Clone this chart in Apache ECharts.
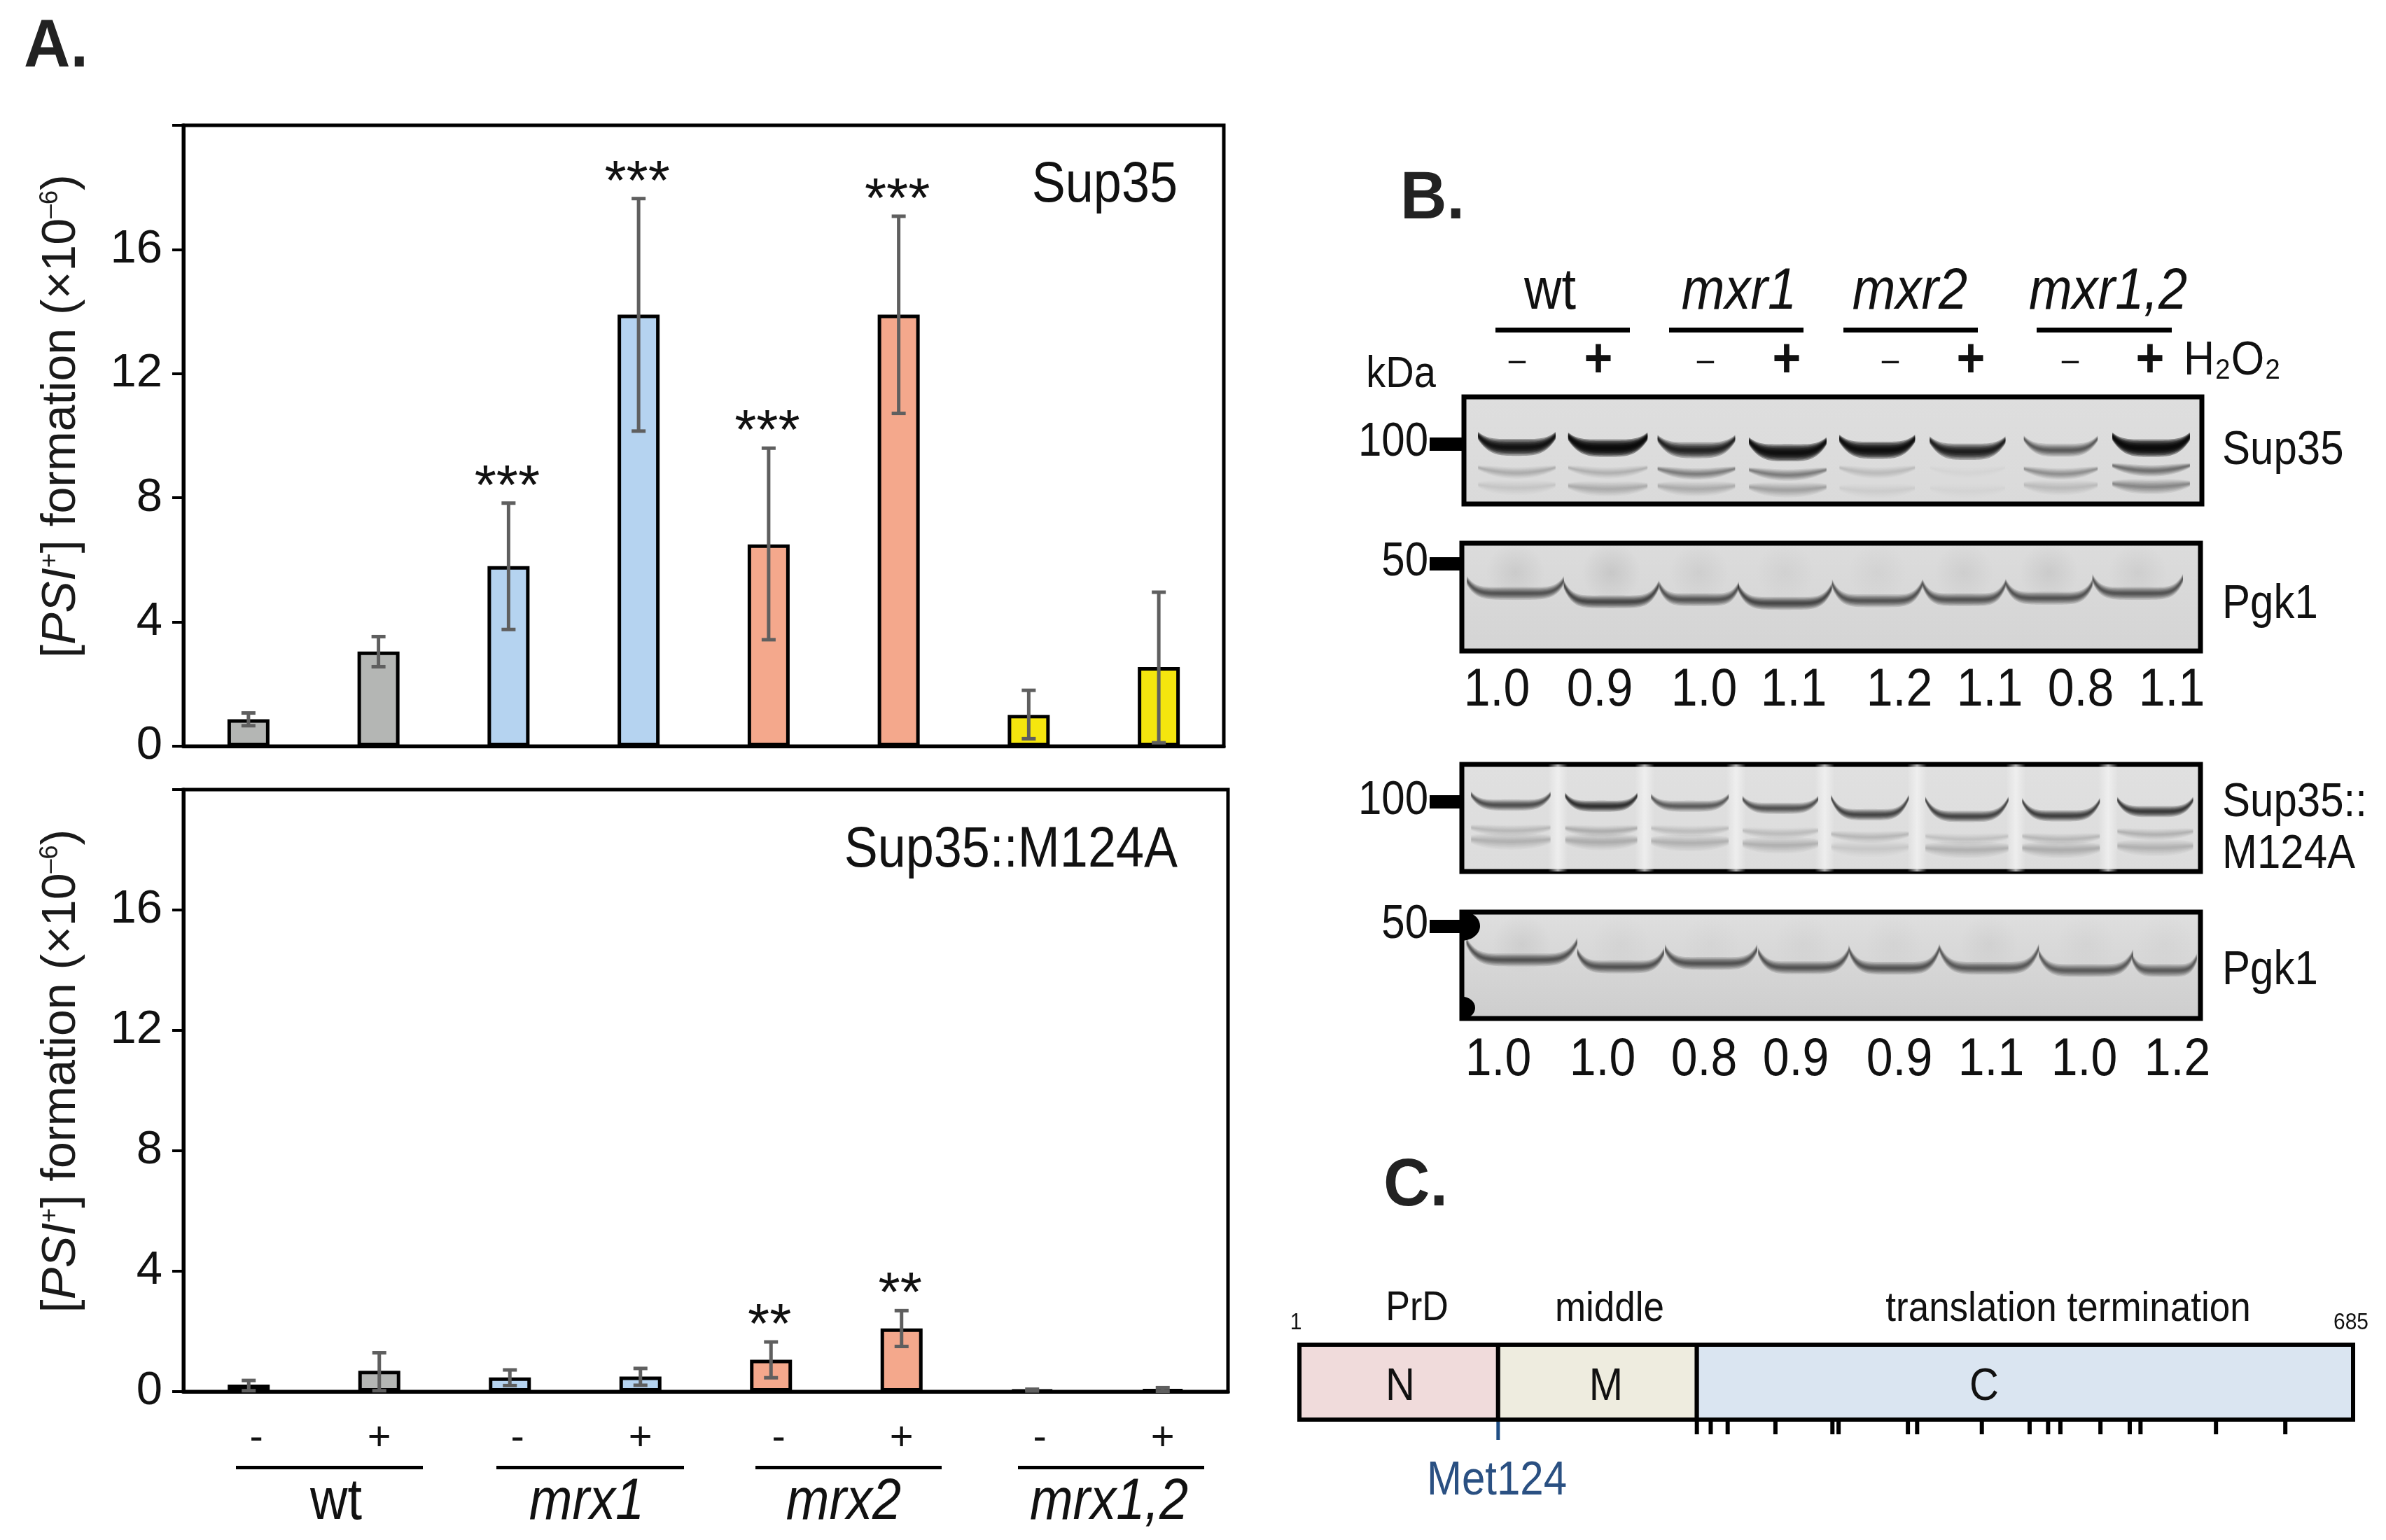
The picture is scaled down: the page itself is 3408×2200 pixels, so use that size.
<!DOCTYPE html>
<html><head><meta charset="utf-8">
<style>html,body{margin:0;padding:0;background:#fff}#c{width:3408px;height:2200px}</style>
<script src="https://cdn.jsdelivr.net/npm/echarts@6/dist/echarts.min.js"></script>
</head><body><div id="c"></div>
<script>
// ---------- panel A data ----------
const strainLabels = ['-','+','-','+','-','+','-','+'];
const strainGroups = ['wt','mrx1','mrx2','mrx1,2'];
const yTicks = [0,4,8,12,16];
const barColors = ['#b4b6b4','#b4b6b4','#b5d3f0','#b5d3f0','#f4a88c','#f4a88c','#f5e60e','#f5e60e'];
const sup35Values = [0.87,3.05,5.8,13.9,6.5,13.9,1.01,2.55];
const sup35ErrLow = [0.66,2.56,3.76,10.15,3.43,10.72,0.24,0.11];
const sup35ErrHigh = [1.07,3.53,7.83,17.64,9.6,17.07,1.8,4.96];
const sup35Stars = ['','','***','***','***','***','',''];
const m124aValues = [0.23,0.69,0.47,0.5,1.06,2.1,0.05,0.07];
const m124aErrLow = [0.03,0.03,0.2,0.21,0.46,1.5,0.02,0.01];
const m124aErrHigh = [0.37,1.29,0.72,0.77,1.65,2.69,0.08,0.13];
const m124aStars = ['','','','','**','**','',''];
// ---------- panel B data ----------
const headerStrains = ['wt','mxr1','mxr2','mxr1,2'];
const loadingRow1 = ['1.0','0.9','1.0','1.1','1.2','1.1','0.8','1.1'];
const loadingRow2 = ['1.0','1.0','0.8','0.9','0.9','1.1','1.0','1.2'];
const laneCenters1 = [0.573,1.56,2.52,3.51,4.48,5.46,6.47,7.45];
const laneHalf1 = [0.42,0.43,0.42,0.42,0.41,0.41,0.4,0.42];
const band1Main = [0.471,0.478,0.498,0.522,0.498,0.512,0.498,0.478];
const band1MainDark = [0.93,0.97,0.85,0.95,0.95,0.88,0.6,0.97];
const band1Low = [0.71,0.71,0.72,0.73,0.71,0.71,0.72,0.69];
const band1LowDark = [0.2,0.18,0.42,0.42,0.13,0.03,0.32,0.5];
const band1Low2 = [0.85,0.86,0.86,0.87,0.88,0.88,0.85,0.84];
const band1Low2Dark = [0.08,0.2,0.2,0.25,0.06,0.02,0.12,0.36];
const laneCenters2 = [0.58,1.62,2.57,3.5,4.5,5.44,6.36,7.32];
const laneHalf2 = [0.525,0.515,0.43,0.507,0.49,0.45,0.47,0.49];
const band2Main = [0.466,0.544,0.524,0.558,0.534,0.524,0.51,0.466];
const band2Dark = [0.62,0.68,0.62,0.68,0.62,0.62,0.62,0.62];
const band2Haze = [0.1,0.12,0.08,0.06,0.05,0.08,0.1,0.08];
const laneCenters3 = [0.53,1.51,2.47,3.45,4.42,5.47,6.49,7.51];
const laneHalf3 = [0.43,0.39,0.42,0.41,0.42,0.45,0.42,0.41];
const band3Main = [0.38,0.39,0.39,0.41,0.47,0.486,0.48,0.44];
const band3Dark = [0.66,0.78,0.6,0.64,0.7,0.7,0.72,0.74];
const band3Low = [0.62,0.625,0.625,0.647,0.68,0.7,0.7,0.655];
const band3Low2 = [0.72,0.725,0.735,0.757,0.79,0.8,0.8,0.78];
const band3LowDark = [0.16,0.2,0.14,0.14,0.16,0.1,0.15,0.18];
const band3Low2Dark = [0.17,0.2,0.17,0.17,0.09,0.17,0.2,0.17];
const laneGaps3 = [1.04,1.98,2.97,3.93,4.93,6.0,7.0];
const laneCenters4 = [0.65,1.72,2.7,3.7,4.68,5.71,6.76,7.61];
const laneHalf4 = [0.6,0.47,0.5,0.49,0.49,0.54,0.51,0.35];
const band4Main = [0.449,0.515,0.482,0.522,0.527,0.527,0.549,0.549];
const band4Dark = [0.62,0.62,0.62,0.62,0.62,0.6,0.58,0.58];
const band4Haze = [0.08,0.04,0.03,0.04,0.04,0.06,0.04,0.03];
// ---------- panel C data ----------
const domainNames = ['N','M','C'];
const domainStart = [1,130,259];
const domainEnd = [130,259,685];
const domainColors = ['#f0dbdb','#eeecdf','#dae5f1'];
const methioninePositions = [259,268,279,310,347,351,396,402,444,475,487,495,521,540,547,596,641];
const met124Position = [130];

const FONT = '"Liberation Sans", Arial, sans-serif';
const chart = echarts.init(document.getElementById('c'), null, {renderer:'canvas', width:3408, height:2200});

function plotAxis(gridIndex, showLabels) {
  return {
    x: {type:'category', gridIndex, data: strainLabels, position:'bottom',
        axisLine:{show:true,onZero:false,lineStyle:{color:'#000',width:5}},
        axisTick:{show:false},
        axisLabel: showLabels ? {show:true, margin:38, interval:0, color:'#111', fontFamily:FONT, fontSize:58,
          formatter:v=> v==='-' ? '{m|-}' : '{p|+}',
          rich:{m:{padding:[0,0,0,22],fontSize:58,fontFamily:FONT,color:'#111'},p:{fontSize:58,fontFamily:FONT,color:'#111'}}} : {show:false}},
    y: {type:'value', gridIndex, min:0, max:20, interval:4,
        name:'{b|[}{i|PSI}{s|+}{b|] formation (×10}{s|–6}{b|)}',
        nameLocation:'middle', nameGap:140, nameRotate:90,
        nameTextStyle:{padding:[0,0,0,56],rich:{
          b:{fontFamily:FONT,fontSize:68,color:'#1a1a1a'},
          i:{fontFamily:FONT,fontSize:68,fontStyle:'italic',color:'#1a1a1a'},
          s:{fontFamily:FONT,fontSize:36,color:'#1a1a1a',verticalAlign:'top'}}},
        axisLine:{show:true,lineStyle:{color:'#000',width:5}},
        axisTick:{show:true,length:16,lineStyle:{color:'#000',width:4}},
        splitLine:{show:false},
        axisLabel:{margin:30,color:'#111',fontFamily:FONT,fontSize:67,formatter:v=> yTicks.includes(v)?String(v):''}}
  };
}
function barSeries(values, idx) {
  return {type:'bar', xAxisIndex:idx, yAxisIndex:idx, barWidth:60, z:2,
    data: values.map((v,i)=>({value:v,itemStyle:{color:barColors[i],borderColor:'#000',borderWidth:5}}))};
}
function errSeries(low, high, stars, idx) {
  return {type:'custom', xAxisIndex:idx, yAxisIndex:idx, z:5, clip:false,
    data: low.map((l,i)=>[i,l,high[i]]),
    encode:{x:0,y:[1,2]},
    renderItem:(p,api)=>{
      const i=api.value(0), lo=api.coord([i,api.value(1)]), hi=api.coord([i,api.value(2)]);
      const x=lo[0], s={stroke:'#5f5f5f',lineWidth:5}, cap=10;
      const ch=[
        {type:'line',shape:{x1:x,y1:lo[1],x2:x,y2:hi[1]},style:s},
        {type:'line',shape:{x1:x-cap,y1:lo[1],x2:x+cap,y2:lo[1]},style:s},
        {type:'line',shape:{x1:x-cap,y1:hi[1],x2:x+cap,y2:hi[1]},style:s}];
      if(stars[i]) ch.push({type:'text',style:{x:x-2,y:hi[1]-21,text:stars[i],fontFamily:FONT,fontSize:80,fill:'#111',align:'center',verticalAlign:'middle'}});
      return {type:'group',children:ch};
    }};
}
function zipBands(c,h,y,d,sag,pow,base,taper){ return c.map((v,i)=>[v,h[i],y[i],Math.min(d[i],0.97),Array.isArray(sag)?sag[i]:sag,pow,base,taper]); }
// soft, tapering band: a stack of translucent polygons around the band's centre line
function bandRender(p,api){
  const c=api.value(0),h=api.value(1),y=api.value(2),d=api.value(3),sag=api.value(4),pow=api.value(5),base=api.value(6),taper=api.value(7);
  const w=base>0?base:4+7*d;
  const scales=[2.3,1.9,1.55,1.25,0.95,0.65,0.35], a=1-Math.pow(1-d,1/scales.length);
  const line=[];
  for(let k=-20;k<=20;k++){const t=k/20;line.push([t,api.coord([c+t*h,y-sag*Math.pow(Math.abs(t),pow)])]);}
  return {type:'group',children:scales.map(s=>{
    const up=[],dn=[];
    line.forEach(([t,pt])=>{const hw=s*w*0.5*(1-taper*Math.pow(Math.abs(t),3));up.push([pt[0],pt[1]-hw]);dn.unshift([pt[0],pt[1]+hw]);});
    return {type:'polygon',shape:{points:up.concat(dn)},style:{fill:'rgba(6,6,6,'+a.toFixed(3)+')'}};
  })};
}
function blotSeries(idx,data){
  return {type:'custom',xAxisIndex:idx,yAxisIndex:idx,z:3,clip:true,data,renderItem:bandRender,encode:{x:0,y:2}};
}
function hazeSeries(idx,centers,dark,yc){
  return {type:'custom',xAxisIndex:idx,yAxisIndex:idx,z:2,clip:true,data:centers.map((c,i)=>[c,yc,dark[i]]),encode:{x:0,y:1},
    renderItem:(p,api)=>{const c=api.coord([api.value(0),api.value(1)]);
      return {type:'ellipse',shape:{cx:c[0],cy:c[1],rx:62,ry:42},style:{fill:{type:'radial',x:.5,y:.5,r:.5,colorStops:[
        {offset:0,color:'rgba(70,70,70,'+api.value(2)+')'},{offset:1,color:'rgba(70,70,70,0)'}]}}};}};
}
function blotAxes(idx){
  return {x:{type:'value',gridIndex:idx,min:0,max:8,show:false},y:{type:'value',gridIndex:idx,min:0,max:1,inverse:true,show:false}};
}
const vGrad=(a,b)=>({type:'linear',x:0,y:0,x2:0,y2:1,colorStops:[{offset:0,color:a},{offset:1,color:b}]});
const blotGrid=(left,top,width,height,bg)=>({left,top,width,height,show:true,backgroundColor:bg,borderColor:'#000',borderWidth:7});

const gridDefs=[
  {left:262,top:179,width:1486,height:887,show:true,borderColor:'#000',borderWidth:5,backgroundColor:'#fff'},
  {left:262,top:1128,width:1492,height:860,show:true,borderColor:'#000',borderWidth:5,backgroundColor:'#fff'},
  blotGrid(2091,567,1054,153,vGrad('#dedede','#dadada')),
  blotGrid(2088,776,1055,154,vGrad('#dcdcdc','#d4d4d4')),
  blotGrid(2088,1092,1055,153,vGrad('#e0e0e0','#dcdcdc')),
  blotGrid(2088,1303,1055,152,vGrad('#dfdfdf','#cdcdcd')),
  {left:1856,top:1921,width:1505,height:107}
];
const axA=plotAxis(0,false), axB=plotAxis(1,true);
const blots=[2,3,4,5].map(blotAxes);
const xAxes=[axA.x,axB.x,...blots.map(b=>b.x),{type:'value',gridIndex:6,min:1,max:685,show:false}];
const yAxes=[axA.y,axB.y,...blots.map(b=>b.y),{type:'value',gridIndex:6,min:0,max:1,show:false}];

const series=[
  barSeries(sup35Values,0), errSeries(sup35ErrLow,sup35ErrHigh,sup35Stars,0),
  barSeries(m124aValues,1), errSeries(m124aErrLow,m124aErrHigh,m124aStars,1),
  blotSeries(2,zipBands(laneCenters1,laneHalf1,band1Low2,band1Low2Dark,0.03,2,9,0.6)),
  blotSeries(2,zipBands(laneCenters1,laneHalf1,band1Low,band1LowDark,0.05,2,7,0.6)),
  blotSeries(2,zipBands(laneCenters1,laneHalf1,band1Main,band1MainDark,0.11,4,0,0.55)),
  hazeSeries(3,laneCenters2,band2Haze,0.27),
  blotSeries(3,zipBands(laneCenters2,laneHalf2,band2Main,band2Dark,[0.12,0.16,0.13,0.15,0.16,0.15,0.14,0.14],6,8,0.3)),
  {type:'custom',xAxisIndex:4,yAxisIndex:4,z:2,clip:true,data:laneGaps3.map(v=>[v]),encode:{x:0},
    renderItem:(p,api)=>{const a=api.coord([api.value(0),0]),b=api.coord([api.value(0),1]);
      return {type:'rect',shape:{x:a[0]-14,y:a[1],width:28,height:b[1]-a[1]},style:{fill:{type:'linear',x:0,y:0,x2:1,y2:0,colorStops:[
        {offset:0,color:'rgba(245,245,245,0)'},{offset:.5,color:'rgba(245,245,245,0.7)'},{offset:1,color:'rgba(245,245,245,0)'}]}}};}},
  blotSeries(4,zipBands(laneCenters3,laneHalf3,band3Low2,band3Low2Dark,0.02,2,10,0.5)),
  blotSeries(4,zipBands(laneCenters3,laneHalf3,band3Low,band3LowDark,0.03,2,7,0.5)),
  blotSeries(4,zipBands(laneCenters3,laneHalf3,band3Main,band3Dark,[0.1,0.1,0.09,0.09,0.16,0.16,0.14,0.11],5,7,0.45)),
  hazeSeries(5,laneCenters4,band4Haze,0.3),
  blotSeries(5,zipBands(laneCenters4,laneHalf4,band4Main,band4Dark,[0.17,0.14,0.14,0.15,0.18,0.19,0.16,0.12],6,8,0.3)),
  {type:'custom',xAxisIndex:5,yAxisIndex:5,z:4,clip:true,data:[[0,0.13,26,21],[0,0.9,19,16]],encode:{x:0,y:1},
    renderItem:(p,api)=>{const c=api.coord([api.value(0),api.value(1)]);
      return {type:'ellipse',shape:{cx:c[0],cy:c[1],rx:api.value(2),ry:api.value(3)},style:{fill:'#000'}};}},
  {type:'custom',xAxisIndex:6,yAxisIndex:6,z:3,clip:false,data:domainStart.map((s,i)=>[s,domainEnd[i],i]),encode:{x:[0,1]},
    renderItem:(p,api)=>{const a=api.coord([api.value(0),1]),b=api.coord([api.value(1),0]);
      return {type:'rect',shape:{x:a[0],y:a[1],width:b[0]-a[0],height:b[1]-a[1]},style:{fill:domainColors[api.value(2)],stroke:'#000',lineWidth:6}};}},
  {type:'custom',xAxisIndex:6,yAxisIndex:6,z:2,clip:false,data:methioninePositions.map(v=>[v]),encode:{x:0},
    renderItem:(p,api)=>{const a=api.coord([api.value(0),0]);
      return {type:'line',shape:{x1:a[0],y1:a[1],x2:a[0],y2:a[1]+21},style:{stroke:'#000',lineWidth:6}};}},
  {type:'custom',xAxisIndex:6,yAxisIndex:6,z:2,clip:false,data:met124Position.map(v=>[v]),encode:{x:0},
    renderItem:(p,api)=>{const a=api.coord([api.value(0),0]);
      return {type:'line',shape:{x1:a[0],y1:a[1],x2:a[0],y2:a[1]+29},style:{stroke:'#1f4e84',lineWidth:5}};}}
];

// free text & annotation helpers (the source figure's lettering is slightly stretched vertically)
const T=(x,y,text,fontSize,o={},sy=1.13)=>({type:'text',x,y:y+4,scaleY:sy,z:20,style:Object.assign({text,fontFamily:FONT,fontSize,fill:'#111',align:'center',verticalAlign:'middle'},o)});
const R=(x,y,w,h,fill='#000')=>({type:'rect',z:20,shape:{x,y,width:w,height:h},style:{fill}});
const xLoadings1=[2138,2285,2434,2562,2713,2842,2972,3102];
const xLoadings2=[2140,2289,2434,2565,2713,2844,2977,3110];
const xSign=[2167,2283,2436,2552,2700,2815,2957,3071];
const gfx=[
  T(80,64,'A.',92,{fontWeight:'bold',fill:'#222'},1.05),
  T(2046,281,'B.',92,{fontWeight:'bold',fill:'#222'},1.05),
  T(2022,1691,'C.',92,{fontWeight:'bold',fill:'#222'},1.05),
  T(1682,262,'Sup35',72,{align:'right'}),
  T(1682,1212,'Sup35::M124A',72,{align:'right'}),
  R(337,2094,267,5),R(709,2094,268,5),R(1079,2094,266,5),R(1454,2094,266,5),
  T(480,2143,strainGroups[0],74),
  T(838,2143,strainGroups[1],74,{fontStyle:'italic'}),
  T(1205,2143,strainGroups[2],74,{fontStyle:'italic'}),
  T(1584,2143,strainGroups[3],74,{fontStyle:'italic'}),
  // blot header
  T(2214,414,headerStrains[0],74),
  T(2484,414,headerStrains[1],74,{fontStyle:'italic'}),
  T(2728,414,headerStrains[2],74,{fontStyle:'italic'}),
  T(3011,414,headerStrains[3],74,{fontStyle:'italic'}),
  R(2136,468,192,7),R(2384,468,192,7),R(2633,468,192,7),R(2909,468,193,7),
  ...xSign.map((x,i)=> i%2 ? T(x,512,'+',70,{fontWeight:'bold'}) : T(x,512,'–',44)),
  T(3119,512,'H₂O₂',61,{align:'left'}),
  T(2001,532,'kDa',56),
  T(2040,628,'100',60,{align:'right'}), R(2042,625,46,19),
  T(2040,799,'50',60,{align:'right'}), R(2042,796,46,19),
  T(2040,1140,'100',60,{align:'right'}), R(2042,1136,43,19),
  T(2040,1317,'50',60,{align:'right'}), R(2042,1314,43,19),
  T(3174,640,'Sup35',60,{align:'left'}),
  T(3174,860,'Pgk1',60,{align:'left'}),
  T(3174,1143,'Sup35::',60,{align:'left'}),
  T(3174,1217,'M124A',60,{align:'left'}),
  T(3174,1383,'Pgk1',60,{align:'left'}),
  ...loadingRow1.map((s,i)=>T(xLoadings1[i],983,s,68)),
  ...loadingRow2.map((s,i)=>T(xLoadings2[i],1511,s,68)),
  // panel C
  T(2024,1866,'PrD',52),T(2299,1866,'middle',53),T(2954,1866,'translation termination',53),
  T(1851,1886,'1',30),T(3358,1886,'685',30),
  T(2000,1978,domainNames[0],58),T(2294,1978,domainNames[1],58),T(2834,1978,domainNames[2],58),
  T(2138,2112,'Met124',60,{fill:'#2a5082'})
];

chart.setOption({
  animation:false, backgroundColor:'#fff',
  grid:gridDefs, xAxis:xAxes, yAxis:yAxes, series,
  graphic:{elements:gfx}
});
</script></body></html>
